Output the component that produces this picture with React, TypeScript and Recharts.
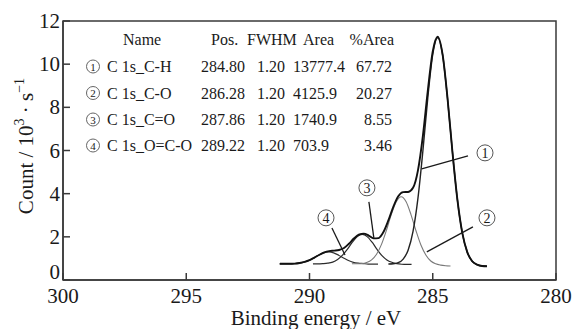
import React from 'react';
import {
  LineChart,
  Line,
  XAxis,
  YAxis,
  ReferenceArea,
  ReferenceLine,
  ReferenceDot,
} from 'recharts';

// Binding energy (eV) and count (10^3 s^-1)
const envelopeEnergy = [
  291.2, 291.0, 290.8, 290.6, 290.4, 290.2, 290.0, 289.8, 289.6, 289.4, 289.2,
  289.0, 288.8, 288.6, 288.4, 288.2, 288.0, 287.8, 287.6, 287.4, 287.2, 287.0,
  286.8, 286.6, 286.4, 286.2, 286.0, 285.8, 285.6, 285.4, 285.2, 285.0, 284.8,
  284.6, 284.4, 284.2, 284.0, 283.8, 283.6, 283.4, 283.2, 283.0, 282.8,
];
const envelopeCount = [
  0.75, 0.75, 0.75, 0.76, 0.79, 0.84, 0.92, 1.04, 1.17, 1.28, 1.34,
  1.36, 1.39, 1.48, 1.68, 1.92, 2.1, 2.15, 2.06, 1.93, 1.94, 2.22,
  2.76, 3.39, 3.88, 4.07, 4.08, 4.27, 5.08, 6.68, 8.78, 10.59, 11.27,
  10.44, 8.41, 5.92, 3.72, 2.17, 1.29, 0.87, 0.71, 0.65, 0.64,
];

// peak 1: C 1s_C-H
const c1Energy = [
  286.8, 286.6, 286.4, 286.2, 286.0, 285.8, 285.6, 285.4, 285.2, 285.0, 284.8,
  284.6, 284.4, 284.2, 284.0, 283.8, 283.6, 283.4, 283.2, 283.0, 282.8,
];
const c1Count = [
  0.74, 0.75, 0.8, 0.97, 1.38, 2.25, 3.79, 5.98, 8.45, 10.45, 11.22,
  10.43, 8.4, 5.92, 3.72, 2.17, 1.29, 0.87, 0.71, 0.65, 0.64,
];

// peak 2: C 1s_C-O
const c2Energy = [
  288.28, 288.08, 287.88, 287.68, 287.48, 287.28, 287.08, 286.88, 286.68, 286.48, 286.28,
  286.08, 285.88, 285.68, 285.48, 285.28, 285.08, 284.88, 284.68, 284.48, 284.28,
];
const c2Count = [
  0.75, 0.75, 0.76, 0.81, 0.93, 1.19, 1.65, 2.3, 3.04, 3.63, 3.86,
  3.63, 3.02, 2.28, 1.62, 1.16, 0.88, 0.75, 0.69, 0.66, 0.65,
];

// peak 3: C 1s_C=O
const c3Energy = [
  289.86, 289.66, 289.46, 289.26, 289.06, 288.86, 288.66, 288.46, 288.26, 288.06, 287.86,
  287.66, 287.46, 287.26, 287.06, 286.86, 286.66, 286.46, 286.26, 286.06, 285.86,
];
const c3Count = [
  0.75, 0.75, 0.76, 0.78, 0.83, 0.95, 1.15, 1.43, 1.75, 2.01, 2.11,
  2.01, 1.75, 1.42, 1.13, 0.93, 0.82, 0.76, 0.73, 0.72, 0.72,
];

// peak 4: C 1s_O=C-O
const c4Energy = [
  291.22, 291.02, 290.82, 290.62, 290.42, 290.22, 290.02, 289.82, 289.62, 289.42, 289.22,
  289.02, 288.82, 288.62, 288.42, 288.22, 288.02, 287.82, 287.62, 287.42, 287.22,
];
const c4Count = [
  0.75, 0.75, 0.75, 0.76, 0.78, 0.83, 0.91, 1.02, 1.15, 1.26, 1.3,
  1.26, 1.15, 1.02, 0.9, 0.82, 0.78, 0.76, 0.74, 0.74, 0.74,
];

const xTicks = [300, 295, 290, 285, 280];
const yTicks = [0, 2, 4, 6, 8, 10, 12];

// fit table
const tableHeader = ['Name', 'Pos.', 'FWHM', 'Area', '%Area'];
const peakNames = ['C 1s_C-H', 'C 1s_C-O', 'C 1s_C=O', 'C 1s_O=C-O'];
const peakPos = ['284.80', '286.28', '287.86', '289.22'];
const peakFwhm = ['1.20', '1.20', '1.20', '1.20'];
const peakArea = ['13777.4', '4125.9', '1740.9', '703.9'];
const peakPct = ['67.72', '20.27', '8.55', '3.46'];

// circled callouts (label position and leader line, in data units)
const callouts = [
  { n: '1', x: 282.88, y: 5.89, from: [283.57, 5.75], to: [285.45, 5.15] },
  { n: '2', x: 282.8, y: 2.88, from: [283.37, 2.46], to: [285.24, 1.3] },
  { n: '3', x: 287.67, y: 4.27, from: [287.59, 3.62], to: [287.39, 1.95] },
  { n: '4', x: 289.33, y: 2.88, from: [289.09, 2.41], to: [288.56, 1.16] },
];

const SERIF = "'Liberation Serif', 'Times New Roman', serif";
const INK = '#1a1a1a';
const AXIS = '#3a3a3a';

const toPoints = (xs: number[], ys: number[]) => xs.map((x, i) => ({ x, y: ys[i] }));

const XTick = ({ x, y, payload }: any) => (
  <text x={x} y={y + 23} textAnchor="middle" fontSize={21} fill={INK} fontFamily={SERIF}>
    {payload.value}
  </text>
);

// the 0 label sits a little higher so it clears the 300 below it
const YTick = ({ x, y, payload }: any) => (
  <text
    x={x}
    y={y + 7 - (payload.value === 0 ? 8 : 0)}
    textAnchor="end"
    fontSize={21}
    fill={INK}
    fontFamily={SERIF}
  >
    {payload.value}
  </text>
);

const rowBase = [72, 98.5, 125, 151];

function FitTable() {
  return (
    <g fontFamily={SERIF} fontSize={16} fill={INK}>
      <text x={123} y={45}>{tableHeader[0]}</text>
      <text x={211} y={45}>{tableHeader[1]}</text>
      <text x={247} y={45}>{tableHeader[2]}</text>
      <text x={303} y={45}>{tableHeader[3]}</text>
      <text x={394} y={45} textAnchor="end">{tableHeader[4]}</text>
      {peakNames.map((name, i) => (
        <g key={name}>
          <circle cx={93} cy={rowBase[i] - 5.5} r={6.5} fill="none" stroke="#555" strokeWidth={0.9} />
          <text x={93} y={rowBase[i] - 1.5} textAnchor="middle" fontSize={11}>{i + 1}</text>
          <text x={107} y={rowBase[i]}>{name}</text>
          <text x={201} y={rowBase[i]}>{peakPos[i]}</text>
          <text x={257} y={rowBase[i]}>{peakFwhm[i]}</text>
          <text x={293} y={rowBase[i]}>{peakArea[i]}</text>
          <text x={392} y={rowBase[i]} textAnchor="end">{peakPct[i]}</text>
        </g>
      ))}
    </g>
  );
}

export default function App() {
  const envelope = toPoints(envelopeEnergy, envelopeCount);
  const peaks = [
    { key: 'c4', data: toPoints(c4Energy, c4Count), stroke: '#333', width: 1.2 },
    { key: 'c3', data: toPoints(c3Energy, c3Count), stroke: '#2a2a2a', width: 1.2 },
    { key: 'c2', data: toPoints(c2Energy, c2Count), stroke: '#7a7a7a', width: 1.1 },
    { key: 'c1', data: toPoints(c1Energy, c1Count), stroke: '#222', width: 1.4 },
  ];

  return (
    <div style={{ position: 'absolute', left: 0, top: 0, width: 582, height: 329, background: '#fff' }}>
      <LineChart width={582} height={329} margin={{ top: 21, right: 26, left: 0, bottom: 0 }}>
        <XAxis
          type="number"
          dataKey="x"
          domain={[280, 300]}
          reversed
          ticks={xTicks}
          allowDataOverflow
          height={49}
          tickSize={-7}
          tickMargin={7}
          tick={<XTick />}
          axisLine={{ stroke: AXIS, strokeWidth: 1.5 }}
          tickLine={{ stroke: AXIS, strokeWidth: 1.5 }}
        />
        <YAxis
          type="number"
          domain={[0, 12]}
          ticks={yTicks}
          allowDataOverflow
          width={63}
          tickSize={-7}
          tickMargin={10}
          tick={<YTick />}
          axisLine={{ stroke: AXIS, strokeWidth: 1.5 }}
          tickLine={{ stroke: AXIS, strokeWidth: 1.5 }}
        />
        <ReferenceArea x1={280} x2={300} y1={0} y2={12} fill="none" stroke={AXIS} strokeWidth={1.5} />
        {peaks.map((p) => (
          <Line
            key={p.key}
            data={p.data}
            dataKey="y"
            type="monotone"
            stroke={p.stroke}
            strokeWidth={p.width}
            dot={false}
            isAnimationActive={false}
          />
        ))}
        <Line
          data={envelope}
          dataKey="y"
          type="monotone"
          stroke="#111"
          strokeWidth={1.9}
          dot={false}
          isAnimationActive={false}
        />
        {callouts.map((c) => (
          <ReferenceLine
            key={`lead-${c.n}`}
            segment={[
              { x: c.from[0], y: c.from[1] },
              { x: c.to[0], y: c.to[1] },
            ]}
            stroke={INK}
            strokeWidth={1.3}
          />
        ))}
        {callouts.map((c) => (
          <ReferenceDot
            key={`dot-${c.n}`}
            x={c.x}
            y={c.y}
            r={8}
            fill="#fff"
            stroke="#555"
            strokeWidth={1}
            label={{ value: c.n, position: 'center', fontSize: 14, fill: INK, fontFamily: SERIF }}
          />
        ))}
      </LineChart>
      <svg
        width={582}
        height={329}
        style={{ position: 'absolute', left: 0, top: 0, pointerEvents: 'none' }}
      >
        <FitTable />
        <text x={316} y={325} textAnchor="middle" fontSize={21} fill={INK} fontFamily={SERIF}>
          Binding energy / eV
        </text>
        <text
          transform="translate(33, 146) rotate(-90)"
          textAnchor="middle"
          fontSize={21}
          fill={INK}
          fontFamily={SERIF}
        >
          Count / 10
          <tspan dy={-9} fontSize={14}>3</tspan>
          <tspan dy={9}> · s</tspan>
          <tspan dy={-9} fontSize={14}>−1</tspan>
        </text>
      </svg>
    </div>
  );
}
